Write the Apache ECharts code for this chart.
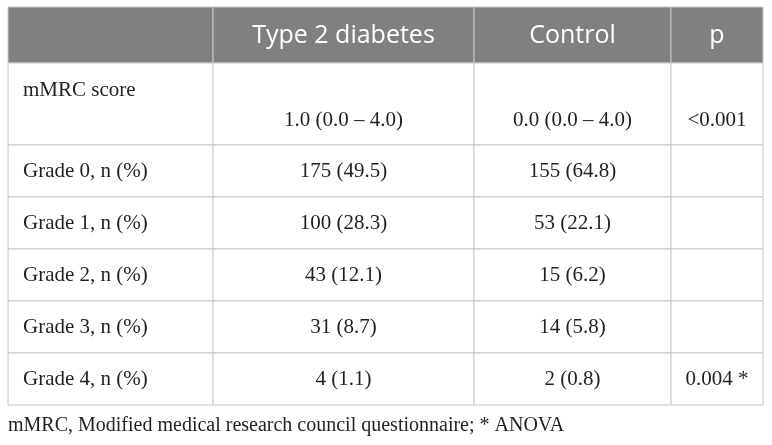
<!DOCTYPE html>
<html>
<head>
<meta charset="utf-8">
<title>mMRC score table</title>
<script src="https://cdn.jsdelivr.net/npm/echarts@6/dist/echarts.min.js"></script>
<style>
  html, body { margin: 0; padding: 0; background: #fff; }
  #main { width: 772px; height: 445px; }
</style>
</head>
<body>
<div id="main"></div>
<script>
'use strict';

// table content
var groups = ['Type 2 diabetes', 'Control', 'p'];
var rowLabels = ['mMRC score', 'Grade 0, n (%)', 'Grade 1, n (%)', 'Grade 2, n (%)', 'Grade 3, n (%)', 'Grade 4, n (%)'];
var t2dmMedian = '1.0 (0.0 \u2013 4.0)';
var controlMedian = '0.0 (0.0 \u2013 4.0)';
var t2dmCount = [175, 100, 43, 31, 4];
var t2dmPct = [49.5, 28.3, 12.1, 8.7, 1.1];
var controlCount = [155, 53, 15, 14, 2];
var controlPct = [64.8, 22.1, 6.2, 5.8, 0.8];
var pValues = ['<0.001', '', '', '', '', '0.004 *'];
var footnote = 'mMRC, Modified medical research council questionnaire; * ANOVA';

// layout (axis units = px inside the grid)
var colEdges = [0, 205, 466, 663, 755];
var rowEdges = [0, 56, 138, 190, 242, 294, 346, 398];

function fmt(n, p) {
    return n + ' (' + p.toFixed(1) + ')';
}

// cells[row][col]
var cells = [[''].concat(groups)];
rowLabels.forEach(function (label, i) {
    var a = i === 0 ? t2dmMedian : fmt(t2dmCount[i - 1], t2dmPct[i - 1]);
    var b = i === 0 ? controlMedian : fmt(controlCount[i - 1], controlPct[i - 1]);
    cells.push([label, a, b, pValues[i]]);
});

var data = [];
cells.forEach(function (row, r) {
    row.forEach(function (txt, c) {
        data.push([c, r]);
    });
});

var serif = '"Liberation Serif", "DejaVu Serif", serif';
var sans = '"Open Sans", "Noto Sans", sans-serif';

function renderCell(params, api) {
    var c = api.value(0), r = api.value(1);
    var p0 = api.coord([colEdges[c], rowEdges[r]]);
    var p1 = api.coord([colEdges[c + 1], rowEdges[r + 1]]);
    var header = r === 0;
    var txt = cells[r][c];
    var tx, ty, align;
    if (c === 0) {
        tx = p0[0] + 15;
        align = 'left';
    } else {
        tx = (p0[0] + p1[0]) / 2;
        align = 'center';
    }
    ty = (p0[1] + p1[1]) / 2;
    // first body row: label on top, values lower down
    if (r === 1) {
        ty = c === 0 ? p0[1] + 27 : p0[1] + 57;
    }
    if (header) ty = p0[1] + 29;
    return {
        type: 'group',
        children: [{
            type: 'rect',
            shape: { x: p0[0], y: p0[1], width: p1[0] - p0[0], height: p1[1] - p0[1] },
            style: { fill: header ? '#808080' : '#ffffff', stroke: '#c6c6c6', lineWidth: 1 }
        }, {
            type: 'text',
            style: {
                text: txt,
                x: tx,
                y: ty,
                align: align,
                verticalAlign: 'middle',
                fill: header ? '#ffffff' : '#231f20',
                fontFamily: header ? sans : serif,
                fontSize: header ? 25 : 21
            }
        }]
    };
}

var myChart = echarts.init(document.getElementById('main'));
var option = {
    animation: false,
    title: {
        text: footnote,
        left: 3,
        top: 411,
        textStyle: {
            fontFamily: serif,
            fontSize: 20,
            fontWeight: 'normal',
            color: '#231f20'
        }
    },
    grid: { left: 8, top: 7, width: 755, height: 398 },
    xAxis: { type: 'value', min: 0, max: 755, show: false },
    yAxis: { type: 'value', min: 0, max: 398, inverse: true, show: false },
    series: [{
        type: 'custom',
        renderItem: renderCell,
        data: data,
        silent: true
    }]
};
myChart.setOption(option);
</script>
</body>
</html>
